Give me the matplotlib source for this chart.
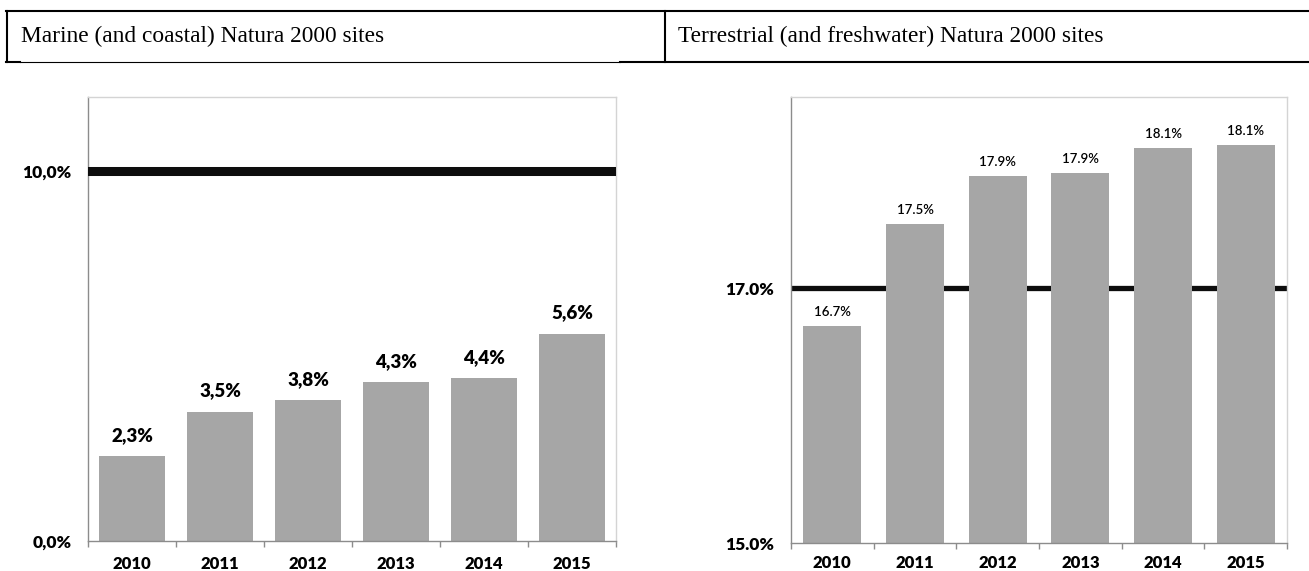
import numpy as np
import matplotlib
matplotlib.use("Agg")
import matplotlib.pyplot as plt
from matplotlib.lines import Line2D

# datos
years = ["2010", "2011", "2012", "2013", "2014", "2015"]
marine = [2.3, 3.5, 3.8, 4.3, 4.4, 5.6]
terrestrial = [16.7, 17.5, 17.88, 17.9, 18.1, 18.12]
marine_target = 10.0
terrestrial_target = 17.0
marine_title = "Marine (and coastal) Natura 2000 sites"
terrestrial_title = "Terrestrial (and freshwater) Natura 2000 sites"

W, H = 1309, 571
fig = plt.figure(figsize=(W / 100, H / 100), dpi=100)
plt.rcParams['font.family'] = ['Lato', 'DejaVu Sans']

def fx(px):
    return px / W

def fy(py):
    return 1 - py / H

# cabecera tipo tabla
def hline(x0, x1, y, lw):
    fig.add_artist(Line2D([fx(x0), fx(x1)], [fy(y), fy(y)], color="black", lw=lw))

def vline(x, y0, y1, lw):
    fig.add_artist(Line2D([fx(x), fx(x)], [fy(y0), fy(y1)], color="black", lw=lw))

hline(6, W, 11, 1.5)
vline(7, 11, 62, 1.5)
vline(665, 11, 62, 1.5)
hline(6, 20, 62, 1.5)
hline(20, 620, 62, 0.8)
hline(620, W, 62, 1.5)

fig.text(fx(21), fy(42), marine_title, family="Liberation Serif", fontsize=16.8,
         va="baseline", ha="left")
fig.text(fx(678), fy(42), terrestrial_title, family="Liberation Serif", fontsize=16.8,
         va="baseline", ha="left")

bar_color = "#a6a6a6"

def style_axes(ax, pad_x):
    ax.spines["left"].set_color("#8c8c8c")
    ax.spines["bottom"].set_color("#8c8c8c")
    ax.spines["top"].set_color("#d4d4d4")
    ax.spines["right"].set_color("#d4d4d4")
    for s in ax.spines.values():
        s.set_linewidth(1.0)
    x = np.arange(len(years))
    ax.set_xlim(-0.5, len(years) - 0.5)
    ax.set_xticks(x)
    ax.set_xticklabels(years, fontsize=12, fontweight="heavy")
    ax.set_xticks(np.arange(-0.5, len(years)), minor=True)
    ax.tick_params(axis="x", which="major", length=0, pad=pad_x)
    ax.tick_params(axis="x", which="minor", length=4, width=1, color="#8c8c8c", direction="out")
    ax.tick_params(axis="y", length=0, pad=12)
    for lab in ax.get_yticklabels():
        lab.set_fontweight("heavy")
        lab.set_fontsize(12.5)

# grafico marino
ax1 = fig.add_axes([fx(88), fy(541), fx(616) - fx(88), fy(97) - fy(541)])
x = np.arange(len(years))
ax1.bar(x, marine, width=0.76, color=bar_color, zorder=2)
ax1.axhline(marine_target, color="#0d0d0d", lw=6.5, zorder=3)
ax1.set_ylim(0, 12)
ax1.set_yticks([0, marine_target])
ax1.set_yticklabels(["0,0%", "10,0%"])
style_axes(ax1, 10.5)
for xi, v in zip(x, marine):
    ax1.annotate(f"{v:.1f}%".replace(".", ","), (xi, v), xytext=(0, 11),
                 textcoords="offset points", ha="center", va="baseline",
                 fontsize=13.5, fontweight="heavy")

# grafico terrestre
ax2 = fig.add_axes([fx(791), fy(543), fx(1287) - fx(791), fy(97) - fy(543)])
ax2.axhline(terrestrial_target, color="#0d0d0d", lw=3.8, zorder=1)
ax2.bar(x, terrestrial, width=0.70, color=bar_color, zorder=2)
ax2.set_ylim(15, 18.5)
ax2.set_yticks([15, terrestrial_target])
ax2.set_yticklabels(["15.0%", "17.0%"])
style_axes(ax2, 9)
for xi, v in zip(x, terrestrial):
    ax2.annotate(f"{v:.1f}%", (xi, v), xytext=(0, 7.2),
                 textcoords="offset points", ha="center", va="baseline",
                 fontsize=9.5, fontweight="semibold")

fig.savefig("out.png", dpi=100)
